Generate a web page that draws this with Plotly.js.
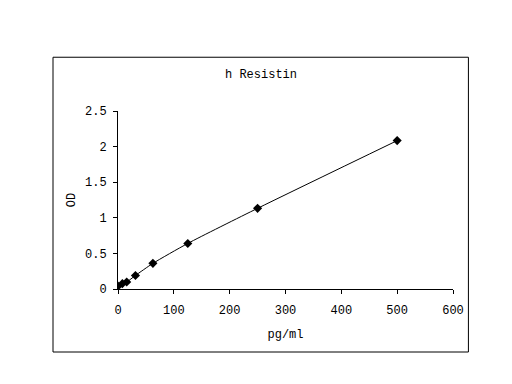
<!DOCTYPE html>
<html><head><meta charset="utf-8">
<script src="https://cdn.plot.ly/plotly-3.0.1.min.js"></script>
<style>html,body{margin:0;padding:0;background:#fff}#c{width:512px;height:384px}</style>
</head><body><div id="c"></div>
<script>
const concentration = [0, 7.8, 15.6, 31.25, 62.5, 125, 250, 500];
const od = [0.04, 0.076, 0.098, 0.19, 0.36, 0.64, 1.133, 2.084];
const xTicks = [0, 100, 200, 300, 400, 500, 600];
const yTicks = [0, 0.5, 1, 1.5, 2, 2.5];
const yTickText = ['0', '0.5', '1', '1.5', '2', '2.5'];

const fnt = {family: 'Liberation Mono, DejaVu Sans Mono, monospace', size: 12, color: '#000'};
const data = [{
  x: concentration, y: od, type: 'scatter', mode: 'lines+markers',
  line: {color: '#000', width: 1, shape: 'spline', smoothing: 0.6},
  marker: {symbol: 'diamond', size: 7, color: '#000'}
}];
const layout = {
  width: 512, height: 384,
  margin: {l: 117.7, r: 59.3, t: 110.7, b: 95.3},
  paper_bgcolor: '#fff', plot_bgcolor: '#fff',
  showlegend: false,
  font: fnt,
  xaxis: {range: [0, 600], tickvals: xTicks, ticks: 'outside', ticklen: 4, tickcolor: '#000',
    ticklabelstandoff: 6,
    showline: true, linecolor: '#000', linewidth: 1, showgrid: false, zeroline: false,
    tickfont: fnt, title: {text: 'pg/ml', font: fnt, standoff: 12}},
  yaxis: {range: [0, 2.5], tickvals: yTicks, ticktext: yTickText, ticks: 'outside', ticklen: 4, tickcolor: '#000',
    ticklabelstandoff: 4,
    showline: true, linecolor: '#000', linewidth: 1, showgrid: false, zeroline: false,
    tickfont: fnt, title: {text: 'OD', font: fnt, standoff: 6}},
  annotations: [{text: 'h Resistin', xref: 'paper', yref: 'paper', x: 0.428, y: 1.205,
    showarrow: false, font: fnt, xanchor: 'center', yanchor: 'middle'}],
  shapes: [{type: 'rect', xref: 'paper', yref: 'paper', x0: -0.194, x1: 1.046, y0: -0.354, y1: 1.302,
    line: {color: '#000', width: 1}}]
};
Plotly.newPlot('c', data, layout, {displayModeBar: false, staticPlot: true});
</script></body></html>
